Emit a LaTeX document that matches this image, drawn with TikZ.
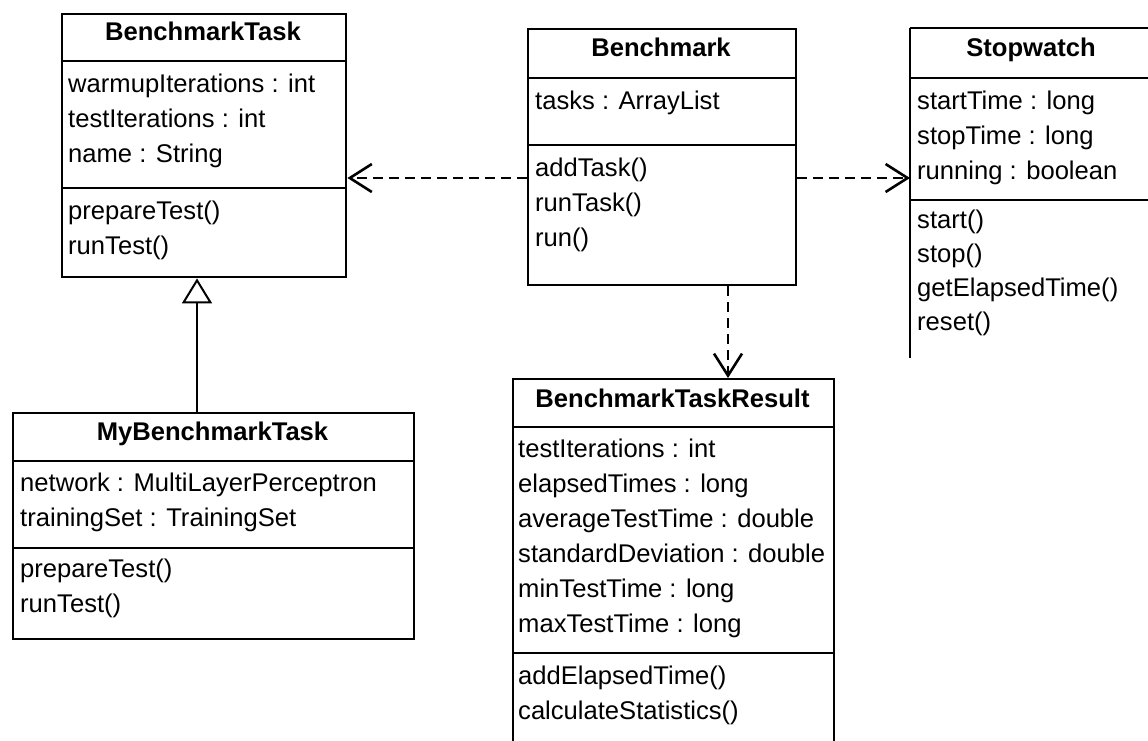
\documentclass[tikz,border=0pt]{standalone}
\usepackage{fontspec}
\setmainfont{Liberation Sans}
\usetikzlibrary{arrows.meta}
\begin{document}
\begin{tikzpicture}[x=1pt,y=-1pt,
  box/.style={draw, line width=2.4pt, rectangle, anchor=north west, inner sep=0pt},
  openbox/.style={rectangle, anchor=north west, inner sep=0pt},
  ttl/.style={anchor=base, font=\fontsize{25.6}{30}\selectfont\bfseries, inner sep=0pt},
  mem/.style={anchor=base west, font=\fontsize{25.6}{30}\selectfont, inner sep=0pt},
  sep/.style={line width=2.4pt},
  dep/.style={line width=2.8pt, dash pattern=on 10pt off 6pt,
    -{Straight Barb[length=22pt,width=28pt,line width=2.6pt]}},
  gen/.style={line width=2.4pt,
    -{Triangle[open,length=25pt,width=30pt,line width=2pt,fill=white]}}
]
\clip (0,0) rectangle (1148,740);
\fill[white] (0,0) rectangle (1148,740);

% BenchmarkTask
\node[box, minimum width=284pt, minimum height=263pt] (bt) at (61,13) {};
\draw[sep] (bt.west |- 0,61) -- (bt.east |- 0,61);
\draw[sep] (bt.west |- 0,188) -- (bt.east |- 0,188);
\node[ttl] (btt) at (203,40) {BenchmarkTask};
\node[mem] (bta1) at (68,92) {warmupIterations : int};
\node[mem] (bta2) at (68,127) {testIterations : int};
\node[mem] (bta3) at (68,162) {name : String};
\node[mem] (btm1) at (68,219) {prepareTest()};
\node[mem] (btm2) at (68,254) {runTest()};

% Benchmark
\node[box, minimum width=268pt, minimum height=256pt] (bm) at (527,28) {};
\draw[sep] (bm.west |- 0,78) -- (bm.east |- 0,78);
\draw[sep] (bm.west |- 0,145) -- (bm.east |- 0,145);
\node[ttl] (bmt) at (661,56) {Benchmark};
\node[mem] (bma1) at (535,109) {tasks : ArrayList};
\node[mem] (bmm1) at (535,176) {addTask()};
\node[mem] (bmm2) at (535,211) {runTask()};
\node[mem] (bmm3) at (535,246) {run()};

% Stopwatch (open to the right and below)
\node[openbox, minimum width=300pt, minimum height=330pt] (sw) at (910,28) {};
\draw[sep] (sw.north west) -- ++(260,0);
\draw[sep] (sw.north west) -- (sw.west |- 0,358);
\draw[sep] (sw.west |- 0,78) -- ++(260,0);
\draw[sep] (sw.west |- 0,200) -- ++(260,0);
\node[ttl] (swt) at (1031,56) {Stopwatch};
\node[mem] (swa1) at (917,109) {startTime : long};
\node[mem] (swa2) at (917,144) {stopTime : long};
\node[mem] (swa3) at (917,179) {running : boolean};
\node[mem] (swm1) at (917,228) {start()};
\node[mem] (swm2) at (917,262) {stop()};
\node[mem] (swm3) at (917,296) {getElapsedTime()};
\node[mem] (swm4) at (917,330) {reset()};

% MyBenchmarkTask
\node[box, minimum width=401pt, minimum height=226pt] (mbt) at (12,412) {};
\draw[sep] (mbt.west |- 0,461) -- (mbt.east |- 0,461);
\draw[sep] (mbt.west |- 0,548) -- (mbt.east |- 0,548);
\node[ttl] (mbtt) at (212.5,440) {MyBenchmarkTask};
\node[mem] (mbta1) at (20,491) {network : MultiLayerPerceptron};
\node[mem] (mbta2) at (20,526) {trainingSet : TrainingSet};
\node[mem] (mbtm1) at (20,577) {prepareTest()};
\node[mem] (mbtm2) at (20,612) {runTest()};

% BenchmarkTaskResult (continues below the lower edge)
\node[box, minimum width=321pt, minimum height=400pt] (res) at (512,378) {};
\draw[sep] (res.west |- 0,427) -- (res.east |- 0,427);
\draw[sep] (res.west |- 0,653) -- (res.east |- 0,653);
\node[ttl] (rest) at (672.5,407) {BenchmarkTaskResult};
\node[mem] (resa1) at (518,457) {testIterations : int};
\node[mem] (resa2) at (518,492) {elapsedTimes : long};
\node[mem] (resa3) at (518,527) {averageTestTime : double};
\node[mem] (resa4) at (518,562) {standardDeviation : double};
\node[mem] (resa5) at (518,597) {minTestTime : long};
\node[mem] (resa6) at (518,632) {maxTestTime : long};
\node[mem] (resm1) at (518,684) {addElapsedTime()};
\node[mem] (resm2) at (518,719) {calculateStatistics()};

% Relationships
\coordinate (ya) at (0,178);
\coordinate (xa) at (728,0);
\coordinate (xg) at (197,0);
\draw[dep] (bm.west |- ya) -- (bt.east |- ya);
\draw[dep] (bm.east |- ya) -- (sw.west |- ya);
\draw[dep] (bm.south -| xa) -- (res.north -| xa);
\draw[gen] (mbt.north -| xg) -- (bt.south -| xg);
\end{tikzpicture}
\end{document}
